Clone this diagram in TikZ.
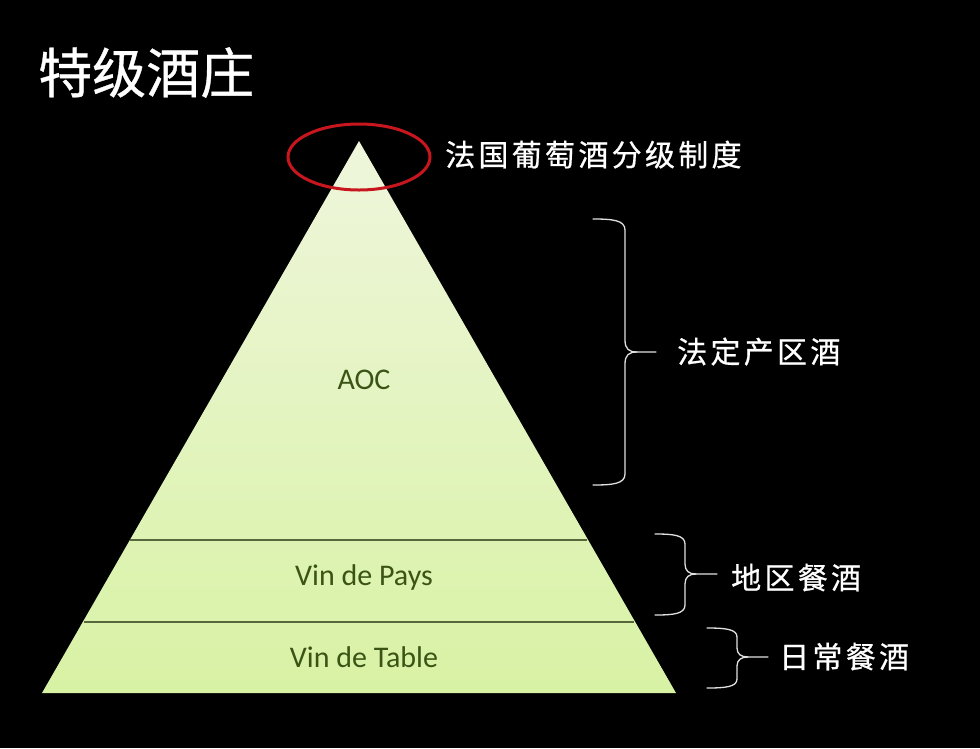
\documentclass[tikz,border=0pt]{standalone}
\usepackage{fontspec}
\setmainfont{Carlito}
\newfontfamily\cjk{Noto Sans CJK SC}[FakeBold=0.6]
\newfontfamily\cjksp{Noto Sans CJK SC}[LetterSpace=11,FakeBold=0.6]
\definecolor{pytop}{RGB}{239,246,220}
\definecolor{pybot}{RGB}{216,242,164}
\definecolor{lvltext}{RGB}{58,84,22}
\definecolor{divline}{RGB}{88,104,60}
\definecolor{ringred}{RGB}{200,22,30}
\definecolor{bracecol}{RGB}{225,225,225}
\begin{document}
\begin{tikzpicture}[x=1pt,y=-1pt,
  lvl/.style={font=\fontsize{30}{30}\selectfont, text=lvltext, inner sep=0pt},
  cjklabel/.style={font=\cjksp\fontsize{30}{30}\selectfont, text=white, inner sep=0pt, anchor=base west},
  bracestyle/.style={draw=bracecol, line width=1.3pt, line cap=round, line join=round},
  divider/.style={draw=divline, line width=1.4pt}]
\fill[black] (0,0) rectangle (980,748);
\useasboundingbox (0,0) rectangle (980,748);
% pyramid
\coordinate (apex) at (359,141);
\coordinate (bl) at (42,693);
\coordinate (br) at (676,693);
\shade[top color=pytop, bottom color=pybot] (apex) -- (br) -- (bl) -- cycle;
% dividers
\draw[divider] (130,540) -- (587,540);
\draw[divider] (84,622) -- (634,622);
% level labels
\node[lvl] (aoc) at (364,380) {AOC};
\node[lvl] (pays) at (364,577) {Vin de Pays};
\node[lvl] (table) at (364,657) {Vin de Table};
% red ring
\draw[ringred, line width=3pt] (359,157) ellipse [x radius=71, y radius=33];
% title
\node[font=\cjk\fontsize{54}{54}\selectfont, text=white, inner sep=0pt, anchor=base west] (title) at (38,93) {特级酒庄};
% labels
\node[cjklabel] (sys) at (445,166) {法国葡萄酒分级制度};
\node[cjklabel] (aoclab) at (677,363) {法定产区酒};
\node[cjklabel] (payslab) at (731,589) {地区餐酒};
\node[cjklabel] (tablab) at (779,668) {日常餐酒};
% braces
\draw[bracestyle] (593,219) .. controls (612,219) and (625,220) .. (625,230)
  -- (625,340) .. controls (625,349) and (629,352) .. (637,352) -- (656,352);
\draw[bracestyle] (593,485) .. controls (612,485) and (625,484) .. (625,474)
  -- (625,364) .. controls (625,355) and (629,352) .. (637,352);
\draw[bracestyle] (655,534) .. controls (673,534) and (685,535) .. (685,544)
  -- (685,564) .. controls (685,571) and (689,574) .. (696,574) -- (717,574);
\draw[bracestyle] (655,615) .. controls (673,615) and (685,614) .. (685,605)
  -- (685,584) .. controls (685,577) and (689,574) .. (696,574);
\draw[bracestyle] (707,628) .. controls (725,628) and (737,629) .. (737,637)
  -- (737,648) .. controls (737,654) and (741,657) .. (748,657) -- (768,657);
\draw[bracestyle] (707,688) .. controls (725,688) and (737,687) .. (737,679)
  -- (737,666) .. controls (737,660) and (741,657) .. (748,657);
\end{tikzpicture}
\end{document}
